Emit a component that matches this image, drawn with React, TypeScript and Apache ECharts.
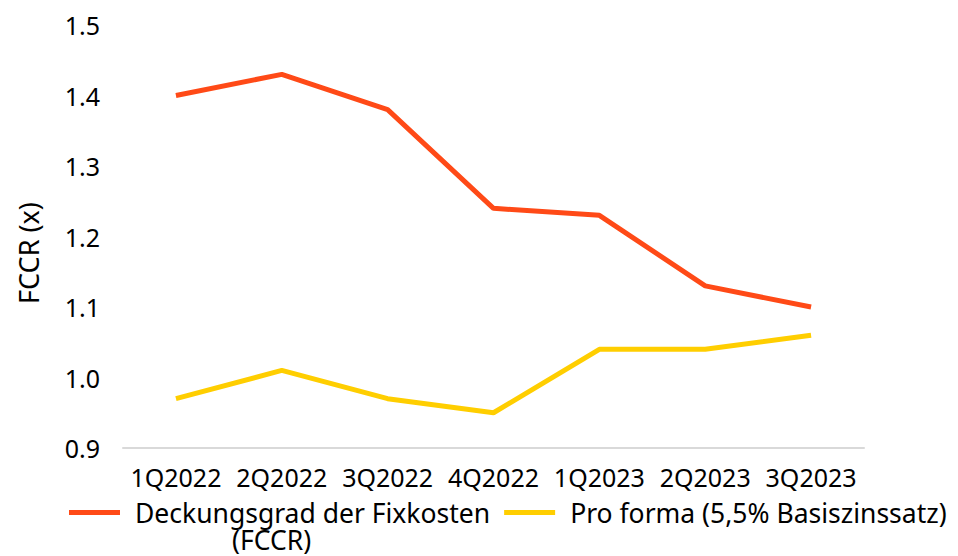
import React, { useEffect, useRef } from "react";
import * as echarts from "echarts";

const categories = ["1Q2022", "2Q2022", "3Q2022", "4Q2022", "1Q2023", "2Q2023", "3Q2023"];
const fccr = [1.40, 1.43, 1.38, 1.24, 1.23, 1.13, 1.10];
const proForma = [0.97, 1.01, 0.97, 0.95, 1.04, 1.04, 1.06];
const seriesNames = ["Deckungsgrad der Fixkosten", "Pro forma (5,5% Basiszinssatz)"];
const yAxisTitle = "FCCR (x)";
const legendSecondLine = "(FCCR)";

const FONT = "Noto Sans";
const FS = 25;
const LFS = 26.5;

export default function App() {
  const ref = useRef<HTMLDivElement>(null);
  useEffect(() => {
    if (!ref.current) return;
    const chart = echarts.init(ref.current, undefined, { renderer: "svg" });
    chart.setOption({
      animation: false,
      textStyle: { fontFamily: FONT },
      grid: { left: 123, right: 94, top: 25, bottom: 108 },
      xAxis: {
        type: "category",
        data: categories,
        boundaryGap: true,
        axisLine: { lineStyle: { color: "#d9d9d9", width: 2 } },
        axisTick: { show: false },
        axisLabel: { color: "#000", fontSize: FS, fontFamily: FONT, margin: 16, interval: 0 },
      },
      yAxis: {
        type: "value",
        min: 0.9,
        max: 1.5,
        interval: 0.1,
        splitLine: { show: false },
        axisLine: { show: false },
        axisTick: { show: false },
        axisLabel: {
          color: "#000",
          fontSize: FS,
          fontFamily: FONT,
          margin: 23,
          formatter: (v: number) => v.toFixed(1),
        },
      },
      legend: {
        left: 69,
        top: 499,
        width: 940,
        padding: 0,
        icon: "rect",
        itemWidth: 51,
        itemHeight: 5,
        itemGap: 14,
        textStyle: { color: "#000", fontSize: LFS, fontFamily: FONT, padding: [0, 0, 0, 10] },
        data: seriesNames,
      },
      graphic: [
        {
          type: "text",
          x: 28,
          y: 253,
          rotation: Math.PI / 2,
          style: {
            text: yAxisTitle,
            fill: "#000",
            fontSize: 27,
            fontFamily: FONT,
            align: "center",
            verticalAlign: "middle",
          },
        },
        {
          type: "text",
          left: 232,
          top: 526,
          style: { text: legendSecondLine, fill: "#000", fontSize: LFS, fontFamily: FONT },
        },
      ],
      series: [
        {
          name: seriesNames[0],
          type: "line",
          data: fccr,
          symbol: "none",
          lineStyle: { color: "#ff4a17", width: 5 },
          itemStyle: { color: "#ff4a17" },
        },
        {
          name: seriesNames[1],
          type: "line",
          data: proForma,
          symbol: "none",
          lineStyle: { color: "#ffce00", width: 5 },
          itemStyle: { color: "#ffce00" },
        },
      ],
    });
    return () => chart.dispose();
  }, []);
  return <div ref={ref} style={{ width: 958, height: 556, position: "absolute", left: 0, top: 0 }} />;
}
